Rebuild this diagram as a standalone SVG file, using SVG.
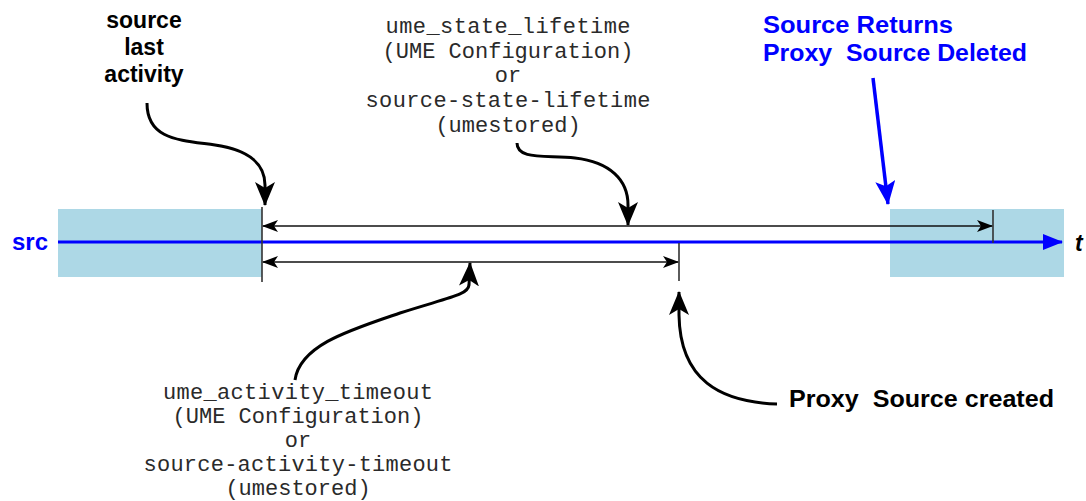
<svg xmlns="http://www.w3.org/2000/svg" width="1086" height="501" viewBox="0 0 1086 501">
<defs>
<style>
.box{fill:#ADD8E6;}
.lbl{font-family:"Liberation Sans",Arial,sans-serif;font-weight:bold;font-size:23px;}
.mono{font-family:"Liberation Mono","Courier New",monospace;font-size:22px;fill:#2a2a2a;text-anchor:middle;}
.dim{stroke:#111;stroke-width:1.6;fill:none;}
.tick{stroke:#333;stroke-width:1.6;}
.curve{stroke:#000;stroke-width:3;fill:none;}
</style>
<marker id="dimhead" viewBox="0 0 16 12" refX="15" refY="6" markerWidth="16" markerHeight="12" markerUnits="userSpaceOnUse" orient="auto-start-reverse">
<path d="M0,0 L16,6 L0,12 L4,6 Z" fill="#000"/>
</marker>
<marker id="curvehead" viewBox="0 0 24 20" refX="23" refY="10" markerWidth="24" markerHeight="20" markerUnits="userSpaceOnUse" orient="auto">
<path d="M0,0 L24,10 L0,20 L6,10 Z" fill="#000"/>
</marker>
<marker id="bluehead" viewBox="0 0 24 20" refX="23" refY="10" markerWidth="24" markerHeight="20" markerUnits="userSpaceOnUse" orient="auto">
<path d="M0,0 L24,10 L0,20 L5,10 Z" fill="#0000FF"/>
</marker>
<marker id="axishead" viewBox="0 0 20 16" refX="19" refY="8" markerWidth="20" markerHeight="16" markerUnits="userSpaceOnUse" orient="auto">
<path d="M0,0 L20,8 L0,16 Z" fill="#0000FF"/>
</marker>
</defs>
<rect width="1086" height="501" fill="#fff"/>

<g id="left-box"><rect class="box" x="58" y="209" width="204" height="68"/></g>
<g id="right-box"><rect class="box" x="890" y="209" width="174" height="68"/></g>

<g id="connectors">
<line x1="58" y1="242" x2="1062" y2="242" stroke="#0000FF" stroke-width="3" marker-end="url(#axishead)"/>
<line class="tick" x1="262" y1="207" x2="262" y2="282"/>
<line class="tick" x1="993" y1="210" x2="993" y2="243"/>
<line class="tick" x1="679" y1="243" x2="679" y2="281"/>
<line class="dim" x1="263" y1="226" x2="992" y2="226" marker-start="url(#dimhead)" marker-end="url(#dimhead)"/>
<line class="dim" x1="263" y1="262" x2="678" y2="262" marker-start="url(#dimhead)" marker-end="url(#dimhead)"/>
<path class="curve" d="M147,103 C147,140 180,140 215,145 C250,150 265,165 265,185 L265,205" marker-end="url(#curvehead)"/>
<path class="curve" d="M517,143 C517,160 545,155 575,158 C610,162 628,180 628,205 L628,225" marker-end="url(#curvehead)"/>
<path class="curve" d="M295,380 C300,345 350,330 400,313 C450,297 468,295 469,285 L470,263" marker-end="url(#curvehead)"/>
<path class="curve" d="M777,404 C720,402 680,380 679,315 L679,292" marker-end="url(#curvehead)"/>
<line x1="873" y1="78" x2="888" y2="204" stroke="#0000FF" stroke-width="3.5" marker-end="url(#bluehead)"/>
</g>

<g id="src-label"><text class="lbl" x="12" y="250" fill="#0000FF" textLength="36" lengthAdjust="spacingAndGlyphs" font-size="20">src</text></g>
<g id="t-label"><text class="lbl" x="1075" y="251" fill="#000" font-style="italic">t</text></g>

<g id="source-last-activity" class="lbl" fill="#000">
<text x="144" y="28" text-anchor="middle">source</text>
<text x="144" y="55" text-anchor="middle">last</text>
<text x="144" y="82" text-anchor="middle">activity</text>
</g>

<g id="state-lifetime">
<text class="mono" x="508" y="33" textLength="245">ume_state_lifetime</text>
<text class="mono" x="508" y="58">(UME Configuration)</text>
<text class="mono" x="508" y="82">or</text>
<text class="mono" x="508" y="107" textLength="285">source-state-lifetime</text>
<text class="mono" x="508" y="132">(umestored)</text>
</g>

<g id="activity-timeout">
<text class="mono" x="298" y="399" textLength="270">ume_activity_timeout</text>
<text class="mono" x="298" y="423">(UME Configuration)</text>
<text class="mono" x="298" y="447">or</text>
<text class="mono" x="298" y="471" textLength="309">source-activity-timeout</text>
<text class="mono" x="298" y="495">(umestored)</text>
</g>

<g id="source-returns" class="lbl" fill="#0000FF">
<text x="763" y="33" textLength="190" lengthAdjust="spacingAndGlyphs">Source Returns</text>
<text x="763" y="61" textLength="264" lengthAdjust="spacingAndGlyphs" xml:space="preserve">Proxy  Source Deleted</text>
</g>

<g id="proxy-created" class="lbl" fill="#000">
<text x="789" y="407" textLength="265" lengthAdjust="spacingAndGlyphs" xml:space="preserve">Proxy  Source created</text>
</g>
</svg>
